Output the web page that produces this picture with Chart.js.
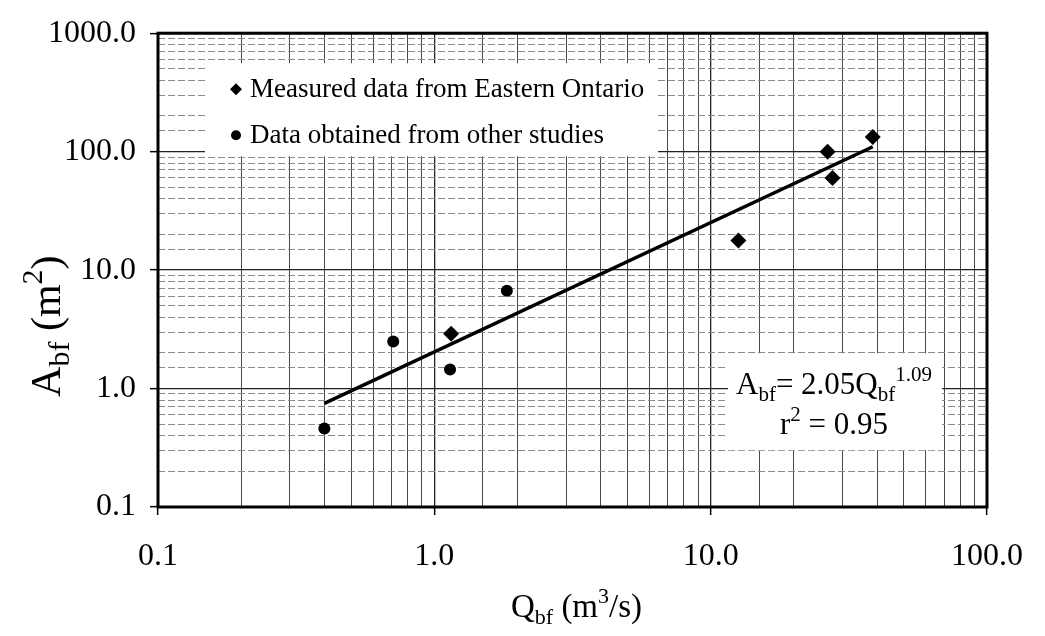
<!DOCTYPE html>
<html>
<head>
<meta charset="utf-8">
<script src="https://cdn.jsdelivr.net/npm/chart.js@4/dist/chart.umd.min.js"></script>
<style>
  html, body { margin: 0; padding: 0; background: #fff; }
  #wrap { position: relative; width: 1045px; height: 636px; }
</style>
</head>
<body>
<div id="wrap"><canvas id="chart" width="1045" height="636"></canvas></div>
<script>
// measured data from Eastern Ontario (diamonds)
const qEastern = [1.15, 12.6, 26.5, 27.6, 38.6];
const aEastern = [2.9, 17.8, 100, 60, 133];
// data obtained from other studies (circles)
const qOther = [0.40, 0.71, 1.14, 1.83];
const aOther = [0.46, 2.5, 1.45, 6.7];
// regression line end points, A = 2.05 Q^1.09
const qFit = [0.4, 38.6];
const aFit = [0.75, 110];

const legendLabels = ["Measured data from Eastern Ontario", "Data obtained from other studies"];

const SERIF = "'Liberation Serif', 'Times New Roman', serif";

function isDecade(v) {
  const l = Math.log10(v);
  return Math.abs(l - Math.round(l)) < 1e-6;
}

function toPoints(xs, ys) {
  return xs.map((x, i) => ({ x: x, y: ys[i] }));
}

// draw text with sub/superscript parts, centred on x
function drawRich(ctx, parts, x, y, size, ratio) {
  const small = Math.round(size * (ratio || 0.68));
  let total = 0;
  parts.forEach((p) => {
    ctx.font = (p.s ? small : size) + "px " + SERIF;
    p.w = ctx.measureText(p.t).width;
    total += p.w;
  });
  let cx = x - total / 2;
  ctx.textAlign = "left";
  ctx.textBaseline = "alphabetic";
  parts.forEach((p) => {
    ctx.font = (p.s ? small : size) + "px " + SERIF;
    let dy = 0;
    if (p.s === "sub") dy = size * 0.22;
    if (p.s === "sup") dy = -size * 0.42;
    ctx.fillText(p.t, cx, y + dy);
    cx += p.w;
  });
}

const overlay = {
  id: "overlay",
  beforeDatasetsDraw(chart) {
    const ctx = chart.ctx;
    const ca = chart.chartArea;
    ctx.save();
    ctx.fillStyle = "#fff";
    // legend box
    ctx.fillRect(ca.left + 47, ca.top + 30, 453, 93);
    // equation box
    ctx.fillRect(ca.left + 570, ca.top + 320, 214, 97);
    ctx.restore();
  },
  afterDatasetsDraw(chart) {
    const ctx = chart.ctx;
    const ca = chart.chartArea;
    ctx.save();
    // frame
    ctx.strokeStyle = "#000";
    ctx.lineWidth = 3;
    ctx.strokeRect(ca.left, ca.top, ca.right - ca.left, ca.bottom - ca.top);

    // legend
    ctx.fillStyle = "#000";
    const lx = ca.left + 78;
    const ly = [ca.top + 56, ca.top + 102];
    ctx.beginPath();
    ctx.moveTo(lx, ly[0] - 6);
    ctx.lineTo(lx + 6, ly[0]);
    ctx.lineTo(lx, ly[0] + 6);
    ctx.lineTo(lx - 6, ly[0]);
    ctx.closePath();
    ctx.fill();
    ctx.beginPath();
    ctx.arc(lx, ly[1], 5, 0, Math.PI * 2);
    ctx.fill();
    ctx.font = "27px " + SERIF;
    ctx.textAlign = "left";
    ctx.textBaseline = "middle";
    legendLabels.forEach((t, i) => ctx.fillText(t, lx + 14, ly[i] + 1));

    // equation
    const ex = ca.left + 676;
    drawRich(ctx, [
      { t: "A" }, { t: "bf", s: "sub" }, { t: "= 2.05Q" }, { t: "bf", s: "sub" }, { t: "1.09", s: "sup" }
    ], ex, ca.top + 361, 31);
    drawRich(ctx, [{ t: "r" }, { t: "2", s: "sup" }, { t: " = 0.95" }], ex, ca.top + 401, 31);

    // axis titles
    drawRich(ctx, [{ t: "Q" }, { t: "bf", s: "sub" }, { t: " (m" }, { t: "3", s: "sup" }, { t: "/s)" }],
      (ca.left + ca.right) / 2 + 4, ca.bottom + 110, 33);
    ctx.translate(46, ca.top + 293);
    ctx.rotate(-Math.PI / 2);
    drawRich(ctx, [{ t: "A" }, { t: "bf", s: "sub" }, { t: " (m" }, { t: "2", s: "sup" }, { t: ")" }], 0, 14, 42, 0.72);
    ctx.restore();
  }
};

function gridOpts(horizontal) {
  return {
    drawTicks: true,
    tickLength: 8,
    tickWidth: 1.5,
    tickColor: (c) => (c.tick && isDecade(c.tick.value) ? "#000" : "rgba(0,0,0,0)"),
    color: (c) => {
      if (!c.tick) return "#555";
      if (isDecade(c.tick.value)) return "#222";
      return horizontal ? "#8a8a8a" : "#4a4a4a";
    },
    lineWidth: (c) => (c.tick && isDecade(c.tick.value) ? 1.3 : 1)
  };
}

new Chart(document.getElementById("chart"), {
  type: "scatter",
  data: {
    datasets: [
      {
        label: legendLabels[0],
        data: toPoints(qEastern, aEastern),
        pointStyle: "rectRot",
        pointRadius: 8,
        backgroundColor: "#000",
        borderColor: "#000",
        borderWidth: 0
      },
      {
        label: legendLabels[1],
        data: toPoints(qOther, aOther),
        pointStyle: "circle",
        pointRadius: 6,
        backgroundColor: "#000",
        borderColor: "#000",
        borderWidth: 0
      },
      {
        type: "line",
        label: "fit",
        data: toPoints(qFit, aFit),
        borderColor: "#000",
        borderWidth: 3.5,
        pointRadius: 0,
        fill: false
      }
    ]
  },
  options: {
    responsive: false,
    animation: false,
    layout: { padding: { left: 0, top: 22, right: 44, bottom: 0 } },
    plugins: {
      legend: { display: false },
      tooltip: { enabled: false }
    },
    scales: {
      x: {
        type: "logarithmic",
        min: 0.1,
        max: 100,
        afterFit: (s) => { s.height = 129; },
        grid: gridOpts(false),
        border: { display: false },
        ticks: {
          autoSkip: false,
          maxRotation: 0,
          padding: 22,
          color: "#000",
          font: { family: SERIF, size: 32 },
          callback: (v) => (isDecade(v) ? Number(v).toFixed(1) : "")
        }
      },
      y: {
        type: "logarithmic",
        min: 0.1,
        max: 1000,
        afterFit: (s) => { s.width = 158; },
        grid: gridOpts(true),
        border: { display: false, dash: (c) => (c.tick && isDecade(c.tick.value) ? [] : [7, 3]) },
        ticks: {
          autoSkip: false,
          padding: 14,
          color: "#000",
          font: { family: SERIF, size: 32 },
          callback: (v) => (isDecade(v) ? Number(v).toFixed(1) : "")
        }
      }
    }
  },
  plugins: [overlay]
});
</script>
</body>
</html>
